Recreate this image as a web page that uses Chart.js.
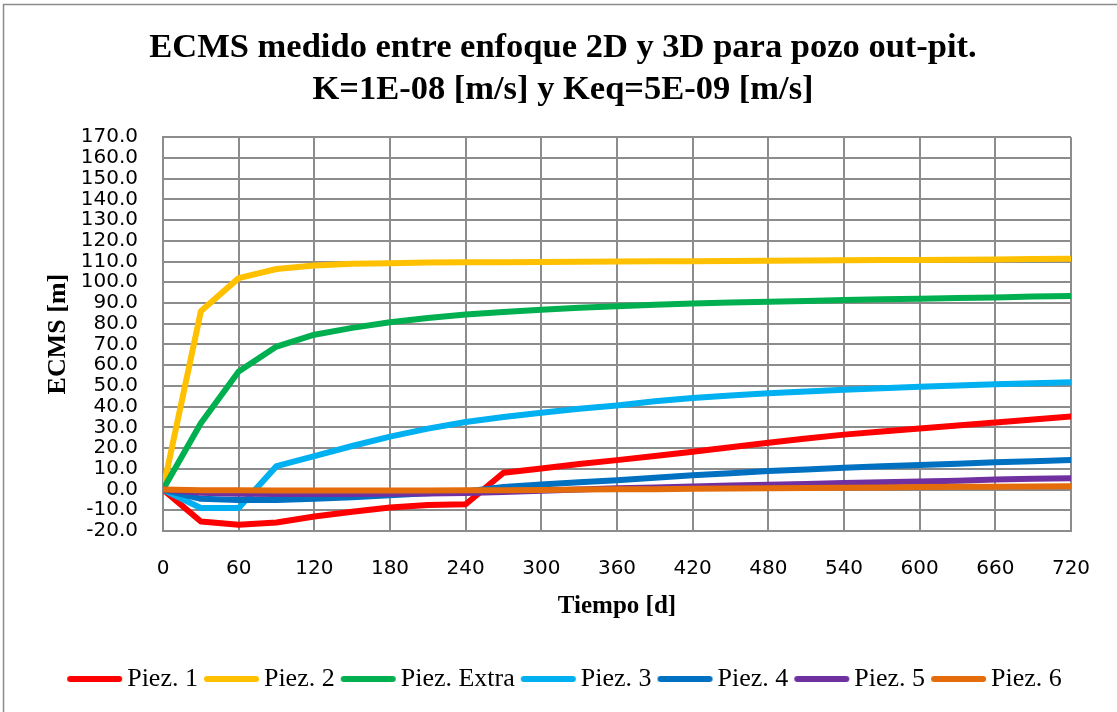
<!doctype html>
<html>
<head>
<meta charset="utf-8">
<title>ECMS 2D vs 3D</title>
<script src="https://cdn.jsdelivr.net/npm/chart.js@4.4.0/dist/chart.umd.min.js"></script>
<style>
	html, body { margin: 0; padding: 0; background: #fff; }
	#wrap { position: relative; width: 1117px; height: 712px; }
</style>
</head>
<body>
<div id="wrap"><canvas id="canvas"></canvas></div>
<script>
	// tiempo [d], cada 30 dias
	var dias = [0, 30, 60, 90, 120, 150, 180, 210, 240, 270, 300, 330, 360, 390, 420, 450, 480, 510, 540, 570, 600, 630, 660, 690, 720];

	var piez1 = [0, -15.4, -17, -15.9, -13, -10.7, -8.7, -7.4, -7.1, 8.1, 10.2, 12.3, 14.2, 16.2, 18.2, 20.4, 22.6, 24.6, 26.5, 28, 29.4, 30.9, 32.3, 33.8, 35.2];
	var piez2 = [0, 86, 102, 106.4, 108.1, 108.9, 109.2, 109.5, 109.6, 109.7, 109.8, 109.9, 110, 110.1, 110.2, 110.3, 110.4, 110.5, 110.6, 110.7, 110.8, 110.9, 111, 111.2, 111.3];
	var piezExtra = [0, 32, 57, 69, 74.7, 78, 80.7, 82.8, 84.4, 85.7, 86.8, 87.7, 88.4, 89.1, 89.7, 90.2, 90.6, 91, 91.4, 91.8, 92.1, 92.4, 92.7, 93.1, 93.4];
	var piez3 = [0, -8.9, -8.9, 11.3, 16.1, 21, 25.5, 29.4, 32.6, 35, 37.1, 39, 40.6, 42.6, 44.2, 45.4, 46.5, 47.3, 48.1, 48.9, 49.6, 50.2, 50.8, 51.3, 51.8];
	var piez4 = [0, -4.5, -5.1, -5, -4.5, -3.7, -2.8, -1.8, -0.9, 1.2, 2.4, 3.5, 4.5, 5.7, 6.9, 7.9, 8.9, 9.7, 10.5, 11.2, 11.8, 12.5, 13.2, 13.7, 14.2];
	var piez5 = [0, -1.5, -2, -2.2, -2.2, -2.1, -2, -1.9, -1.7, -1.2, -0.6, 0, 0.6, 1, 1.5, 1.9, 2.3, 2.7, 3.1, 3.5, 3.9, 4.3, 4.8, 5.2, 5.5];
	var piez6 = [0, -0.3, -0.4, -0.5, -0.5, -0.5, -0.5, -0.5, -0.4, -0.3, -0.2, 0, 0.1, 0.2, 0.4, 0.5, 0.6, 0.8, 0.9, 1.0, 1.2, 1.3, 1.4, 1.5, 1.6];

	var nombres = ['Piez. 1', 'Piez. 2', 'Piez. Extra', 'Piez. 3', 'Piez. 4', 'Piez. 5', 'Piez. 6'];
	var series = [piez1, piez2, piezExtra, piez3, piez4, piez5, piez6];
	var colores = ['#FF0000', '#FFC000', '#00B050', '#00B0F0', '#0070C0', '#7030A0', '#E46C0A'];

	var gris = '#8c8c8c';

	function puntos(valores) {
		var out = [];
		for (var i = 0; i < dias.length; i++) {
			out.push({x: dias[i], y: valores[i]});
		}
		return out;
	}

	// muestra de linea para la leyenda, corrida a la derecha para quedar pegada al texto
	function muestra(color) {
		var c = document.createElement('canvas');
		c.width = 70;
		c.height = 10;
		var g = c.getContext('2d');
		g.strokeStyle = color;
		g.lineWidth = 6;
		g.lineCap = 'round';
		g.beginPath();
		g.moveTo(16, 5);
		g.lineTo(65, 5);
		g.stroke();
		return c;
	}

	var datasets = [];
	for (var i = 0; i < series.length; i++) {
		datasets.push({
			label: nombres[i],
			data: puntos(series[i]),
			borderColor: colores[i],
			backgroundColor: colores[i],
			borderWidth: 6,
			borderCapStyle: 'round',
			borderJoinStyle: 'round',
			pointRadius: 0,
			pointStyle: muestra(colores[i]),
			tension: 0,
			fill: false,
			order: series.length - i   // la ultima serie queda encima, como en Excel
		});
	}

	var marco = {
		id: 'marco',
		beforeDraw: function(chart) {
			var ctx = chart.ctx;
			ctx.save();
			ctx.strokeStyle = gris;
			ctx.lineWidth = 1.5;
			ctx.strokeRect(3.5, 4.5, 1300, 900);
			ctx.restore();
		}
	};

	var config = {
		type: 'line',
		data: { datasets: datasets },
		plugins: [marco],
		options: {
			responsive: true,
			maintainAspectRatio: false,
			animation: false,
			layout: { padding: { left: 55, right: 46, top: 4, bottom: 10 } },
			plugins: {
				title: {
					display: true,
					text: ['ECMS medido entre enfoque 2D y 3D para pozo out-pit.', 'K=1E-08 [m/s] y Keq=5E-09 [m/s]'],
					color: '#000',
					font: { family: '"Liberation Serif", "Times New Roman", serif', size: 34.5, weight: 'bold', lineHeight: 1.22 },
					padding: { top: 23, bottom: 26 }
				},
				legend: {
					position: 'bottom',
					labels: {
						usePointStyle: true,
						pointStyleWidth: 50,
						padding: 3,
						color: '#000',
						font: { family: '"Liberation Serif", "Times New Roman", serif', size: 26 },
						sort: function(a, b) { return a.datasetIndex - b.datasetIndex; }
					}
				},
				tooltip: { enabled: false }
			},
			scales: {
				x: {
					type: 'linear',
					min: 0,
					max: 720,
					ticks: {
						stepSize: 60,
						padding: 26,
						color: '#000',
						font: { family: '"DejaVu Sans", sans-serif', size: 20 }
					},
					grid: { color: gris, lineWidth: 2, drawTicks: false },
					border: { color: gris, width: 2 },
					title: {
						display: true,
						text: 'Tiempo [d]',
						color: '#000',
						font: { family: '"Liberation Serif", "Times New Roman", serif', size: 25, weight: 'bold', lineHeight: 1.2 },
						padding: { top: 0, bottom: 41 }
					},
					afterFit: function(scale) { scale.height = 132; }
				},
				y: {
					min: -20,
					max: 170,
					ticks: {
						stepSize: 10,
						autoSkip: false,
						padding: 25,
						color: '#000',
						font: { family: '"DejaVu Sans", sans-serif', size: 20 },
						callback: function(v) { return v.toFixed(1); }
					},
					grid: { color: gris, lineWidth: 2, drawTicks: false },
					border: { color: gris, width: 2 },
					title: {
						display: true,
						text: 'ECMS [m]',
						color: '#000',
						font: { family: '"Liberation Serif", "Times New Roman", serif', size: 26, weight: 'bold', lineHeight: 1.2 },
						padding: { top: -12.6, bottom: 0 }
					},
					afterFit: function(scale) { scale.width = 108; }
				}
			}
		}
	};

	window.onload = function() {
		var ctx = document.getElementById('canvas').getContext('2d');
		window.myLine = new Chart(ctx, config);
	};
</script>
</body>
</html>
